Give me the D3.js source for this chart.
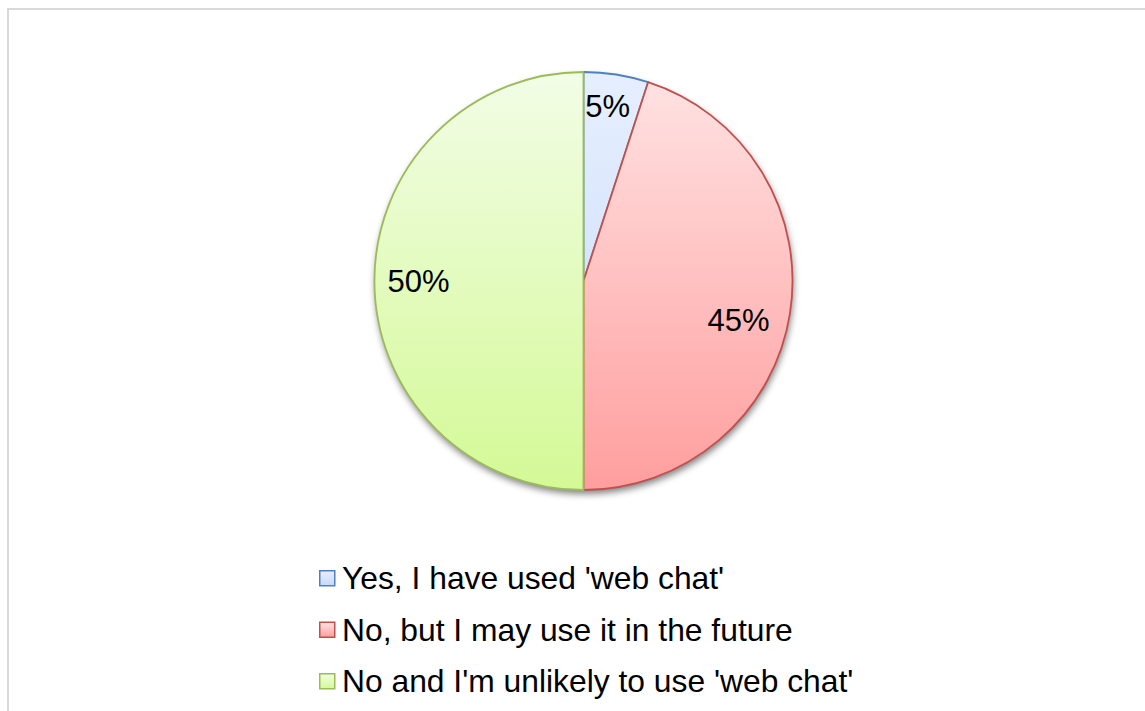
<!DOCTYPE html>
<html>
<head>
<meta charset="utf-8">
<script src="https://cdn.jsdelivr.net/npm/d3@7"></script>
<style>
  html, body { margin: 0; padding: 0; background: #fff; }
  svg { display: block; }
  text { font-family: "Liberation Sans", Arial, sans-serif; fill: #000; }
</style>
</head>
<body>
<svg id="chart" width="1145" height="711"></svg>
<script>
// Survey answers about 'web chat'
const categories = [
  "Yes, I have used 'web chat'",
  "No, but I may use it in the future",
  "No and I'm unlikely to use 'web chat'"
];
const shares = [5, 45, 50];
const percentLabels = ["5%", "45%", "50%"];

const strokeColors = ["#4f81bd", "#c0504d", "#9bbb59"];
const gradTop = ["#e6efff", "#ffe3e3", "#f2fde6"];
const gradBottom = ["#c6d9f8", "#ff9e9e", "#d4f996"];

const W = 1145, H = 711;
const cx = 583.5, cy = 281, R = 209;

const svg = d3.select("#chart");
const defs = svg.append("defs");

// vertical gradients spanning the whole pie (pie group coordinates)
categories.forEach((c, i) => {
  const g = defs.append("linearGradient")
    .attr("id", "grad" + i)
    .attr("gradientUnits", "userSpaceOnUse")
    .attr("x1", 0).attr("y1", -R)
    .attr("x2", 0).attr("y2", R);
  g.append("stop").attr("offset", "0%").attr("stop-color", gradTop[i]);
  g.append("stop").attr("offset", "100%").attr("stop-color", gradBottom[i]);
});
// small gradients for the legend keys
categories.forEach((c, i) => {
  const g = defs.append("linearGradient").attr("id", "lgrad" + i)
    .attr("x1", 0).attr("y1", 0).attr("x2", 0).attr("y2", 1);
  g.append("stop").attr("offset", "0%").attr("stop-color", gradTop[i]);
  g.append("stop").attr("offset", "100%").attr("stop-color", gradBottom[i]);
});

const shadow = defs.append("filter").attr("id", "shadow")
  .attr("x", "-20%").attr("y", "-20%").attr("width", "140%").attr("height", "140%");
shadow.append("feGaussianBlur").attr("in", "SourceAlpha").attr("stdDeviation", 3.5).attr("result", "b");
shadow.append("feOffset").attr("in", "b").attr("dx", 1).attr("dy", 4).attr("result", "o");
shadow.append("feComponentTransfer").attr("in", "o").attr("result", "s")
  .append("feFuncA").attr("type", "linear").attr("slope", 0.5);
const merge = shadow.append("feMerge");
merge.append("feMergeNode").attr("in", "s");
merge.append("feMergeNode").attr("in", "SourceGraphic");

// chart frame (top and left edges visible)
svg.append("line").attr("x1", 8).attr("y1", 9).attr("x2", W).attr("y2", 9)
  .attr("stroke", "#d9d9d9").attr("stroke-width", 2);
svg.append("line").attr("x1", 8).attr("y1", 8).attr("x2", 8).attr("y2", H)
  .attr("stroke", "#d9d9d9").attr("stroke-width", 2);

const pie = d3.pie().sort(null).value(d => d);
const arcs = pie(shares);
const arc = d3.arc().innerRadius(0).outerRadius(R);

const gPie = svg.append("g").attr("transform", `translate(${cx},${cy})`);

// shadow base under the pie
gPie.append("circle").attr("r", R).attr("fill", "#fff").attr("filter", "url(#shadow)");

gPie.selectAll("path.slice")
  .data(arcs)
  .join("path")
  .attr("class", "slice")
  .attr("d", arc)
  .attr("fill", (d, i) => `url(#grad${i})`)
  .attr("stroke", (d, i) => strokeColors[i])
  .attr("stroke-width", 1.8)
  .attr("stroke-linejoin", "round");

// percentage labels
const labelR = [176, 160, 165];
const angleNudge = [-0.02, 0.09, 0];
gPie.selectAll("text.pct")
  .data(arcs)
  .join("text")
  .attr("class", "pct")
  .attr("x", (d, i) => labelR[i] * Math.sin((d.startAngle + d.endAngle) / 2 + angleNudge[i]))
  .attr("y", (d, i) => -labelR[i] * Math.cos((d.startAngle + d.endAngle) / 2 + angleNudge[i]))
  .attr("text-anchor", "middle")
  .attr("dominant-baseline", "central")
  .attr("font-size", 31)
  .text((d, i) => percentLabels[i]);

// legend
const legend = svg.append("g").attr("transform", "translate(319,570)");
const rowH = 51.5;
const rows = legend.selectAll("g.row").data(categories).join("g")
  .attr("class", "row")
  .attr("transform", (d, i) => `translate(0,${i * rowH})`);
rows.append("rect")
  .attr("x", 0.75).attr("y", 0.75).attr("width", 15).attr("height", 15)
  .attr("fill", (d, i) => `url(#lgrad${i})`)
  .attr("stroke", (d, i) => strokeColors[i])
  .attr("stroke-width", 1.5);
rows.append("text")
  .attr("x", 23).attr("y", 8)
  .attr("dominant-baseline", "central")
  .attr("font-size", 31.8)
  .text(d => d);
</script>
</body>
</html>
